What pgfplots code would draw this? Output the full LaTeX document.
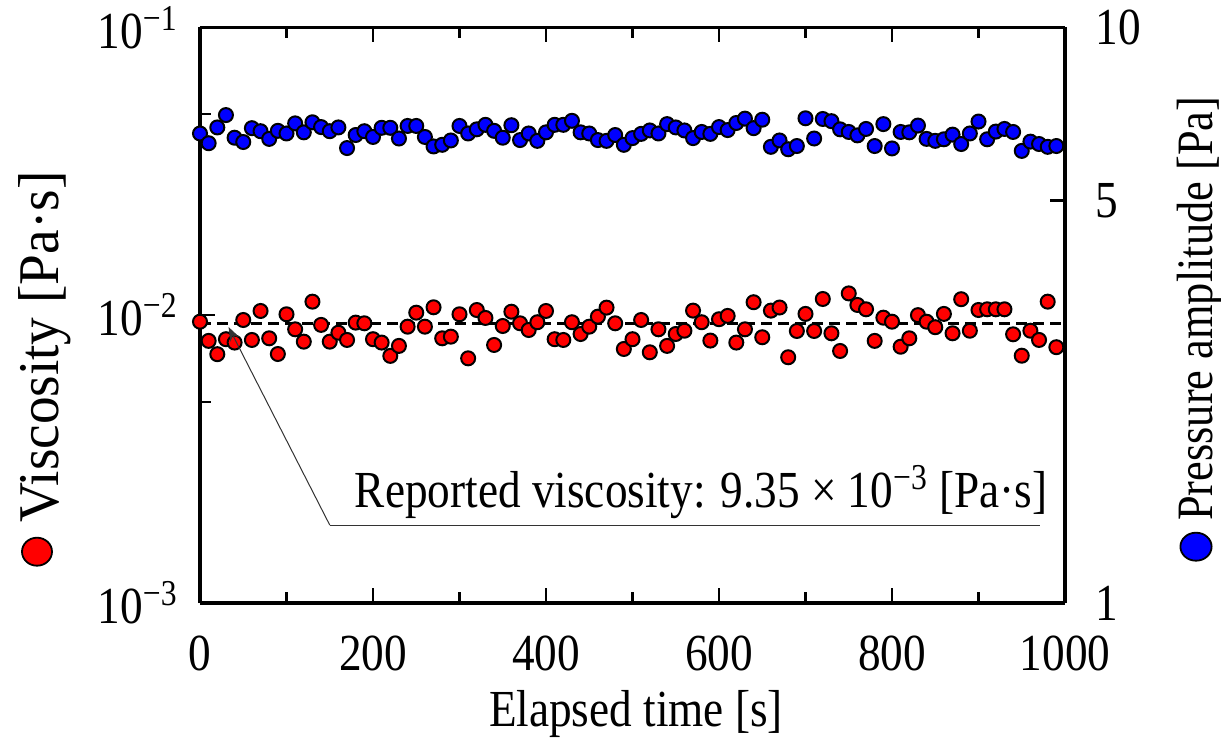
\documentclass[border=0pt]{standalone}
\usepackage{fontspec}
\setmainfont{Liberation Serif}[FakeStretch=0.87]
\newfontfamily\widefont{Liberation Serif}[FakeStretch=0.96]
\usepackage{pgfplots}
\usepackage{pgfplotstable}
\pgfplotsset{compat=1.18}
\usetikzlibrary{arrows.meta}

\pgfplotstableread{
t eta
0 9.49e-3
10 8.14e-3
20 7.32e-3
30 8.25e-3
40 8.03e-3
50 9.62e-3
60 8.20e-3
70 1.034e-2
80 8.31e-3
90 7.33e-3
100 1.007e-2
110 8.93e-3
120 8.09e-3
130 1.114e-2
140 9.25e-3
150 8.09e-3
160 8.69e-3
170 8.20e-3
180 9.42e-3
190 9.37e-3
200 8.25e-3
210 8.03e-3
220 7.22e-3
230 7.82e-3
240 9.12e-3
250 1.020e-2
260 9.12e-3
270 1.065e-2
280 8.31e-3
290 8.42e-3
300 1.007e-2
310 7.08e-3
320 1.042e-2
330 9.78e-3
340 7.88e-3
350 9.17e-3
360 1.028e-2
370 9.37e-3
380 8.88e-3
390 9.45e-3
400 1.034e-2
410 8.25e-3
420 8.20e-3
430 9.45e-3
440 8.60e-3
450 9.12e-3
460 9.88e-3
470 1.062e-2
480 9.37e-3
490 7.63e-3
500 8.25e-3
510 9.62e-3
520 7.43e-3
530 8.93e-3
540 7.82e-3
550 8.60e-3
560 8.83e-3
570 1.037e-2
580 9.45e-3
590 8.16e-3
600 9.68e-3
610 9.94e-3
620 8.03e-3
630 8.93e-3
640 1.109e-2
650 8.38e-3
660 1.037e-2
670 1.063e-2
680 7.14e-3
690 8.81e-3
700 1.010e-2
710 8.81e-3
720 1.138e-2
730 8.65e-3
740 7.51e-3
750 1.190e-2
760 1.085e-2
770 1.048e-2
780 8.14e-3
790 9.80e-3
800 9.49e-3
810 7.77e-3
820 8.31e-3
830 1.000e-2
840 9.49e-3
850 9.08e-3
860 1.010e-2
870 8.65e-3
880 1.136e-2
890 8.83e-3
900 1.042e-2
910 1.048e-2
920 1.048e-2
930 1.048e-2
940 8.58e-3
950 7.23e-3
960 8.83e-3
970 8.20e-3
980 1.114e-2
990 7.74e-3
}\visc

\pgfplotstableread{
t p
0 6.54
10 6.29
20 6.70
30 7.04
40 6.43
50 6.32
60 6.68
70 6.60
80 6.40
90 6.61
100 6.54
110 6.81
120 6.57
130 6.84
140 6.71
150 6.60
160 6.70
170 6.17
180 6.50
190 6.60
200 6.45
210 6.69
220 6.69
230 6.41
240 6.74
250 6.74
260 6.45
270 6.21
280 6.25
290 6.36
300 6.74
310 6.54
320 6.65
330 6.77
340 6.61
350 6.43
360 6.76
370 6.37
380 6.54
390 6.35
400 6.57
410 6.77
420 6.77
430 6.88
440 6.57
450 6.54
460 6.37
470 6.35
480 6.50
490 6.25
500 6.42
510 6.53
520 6.62
530 6.54
540 6.79
550 6.70
560 6.62
570 6.42
580 6.58
590 6.53
600 6.71
610 6.63
620 6.82
630 6.94
640 6.68
650 6.91
660 6.20
670 6.36
680 6.14
690 6.22
700 6.95
710 6.41
720 6.93
730 6.87
740 6.65
750 6.58
760 6.49
770 6.66
780 6.22
790 6.79
800 6.16
810 6.58
820 6.57
830 6.75
840 6.40
850 6.35
860 6.39
870 6.51
880 6.27
890 6.54
900 6.86
910 6.39
920 6.59
930 6.66
940 6.58
950 6.10
960 6.33
970 6.27
980 6.20
990 6.22
}\press

\begin{document}
\begin{tikzpicture}[font=\fontsize{26}{30}\selectfont]
\useasboundingbox (-100pt,-75.5pt) rectangle (510.5pt,301.5pt);
\begin{axis}[
  ymode=log,
  at={(0,0)}, anchor=south west,
  scale only axis, width=432.5pt, height=287.85pt,
  xmin=0, xmax=1000,
  axis line style={line width=1.6pt},
  tick style={line width=1.2pt, black},
  major tick length=7.5pt, minor tick length=5.5pt,
  every tick label/.append style={inner sep=0pt},
  ymin=1e-3, ymax=1e-1,
  axis y line*=left,
  xtick={0,200,400,600,800,1000},
  xticklabels={0,200,400,600,800,1000},
  minor xtick={100,300,500,700,900},
  xticklabel style={anchor=base, yshift=-33.5pt},
  ytick={1e-3,1e-2,1e-1},
  yticklabels={{10\textsuperscript{−3}},{10\textsuperscript{−2}},{10\textsuperscript{−1}}},
  minor ytick={5e-3,5e-2},
  yticklabel style={anchor=east, xshift=-11pt},
  clip mode=individual,
]
\addplot[black, line width=1.3pt, dash pattern=on 5.5pt off 3pt] coordinates {(0,9.35e-3) (1000,9.35e-3)};
\addplot[only marks, mark=*, mark size=3.5pt, mark options={fill=red, draw=black, line width=1pt}] table[x=t, y=eta] {\visc};
\draw[line width=0.5pt, black!80] (axis cs:150,1.866e-3) -- (axis cs:971,1.866e-3);
\draw[line width=0.5pt, black!80, -{Stealth[length=7pt,width=5pt]}] (axis cs:150,1.866e-3) -- (axis cs:33,9.1e-3);
\node[anchor=base west] at (axis cs:171,2.14e-3) {Reported viscosity: 9.35 × 10\textsuperscript{−3} [Pa·s]};
\end{axis}
\begin{axis}[
  ymode=log,
  at={(0,0)}, anchor=south west,
  scale only axis, width=432.5pt, height=287.85pt,
  xmin=0, xmax=1000,
  axis line style={line width=1.6pt},
  tick style={line width=1.2pt, black},
  major tick length=7.5pt, minor tick length=5.5pt,
  every tick label/.append style={inner sep=0pt},
  ymin=1, ymax=10,
  axis y line*=right, axis x line=none,
  ytick={1,5,10}, yticklabels={1,5,10},
  minor ytick={},
  yticklabel style={anchor=west, xshift=15pt},
]
\addplot[only marks, mark=*, mark size=3.5pt, mark options={fill=blue, draw=black, line width=1pt}] table[x=t, y=p] {\press};
\end{axis}
\node[rotate=90, anchor=base west, inner sep=0pt] at (-70.5pt,18pt) {\widefont\fontsize{28.8}{33}\selectfont\tikz[baseline=-11pt]\draw[fill=red, line width=0.9pt] (0,0) ellipse (7pt and 7.5pt);\ Viscosity [Pa·s]};
\node[rotate=90, anchor=base west, inner sep=0pt] at (506pt,20.5pt) {\fontsize{25.5}{30}\selectfont\tikz[baseline=-8pt]\draw[fill=blue, line width=0.9pt] (0,0) ellipse (7pt and 7.8pt);\ Pressure amplitude [Pa]};
\node[anchor=base] at (218pt,-62pt) {Elapsed time [s]};
\end{tikzpicture}
\end{document}
